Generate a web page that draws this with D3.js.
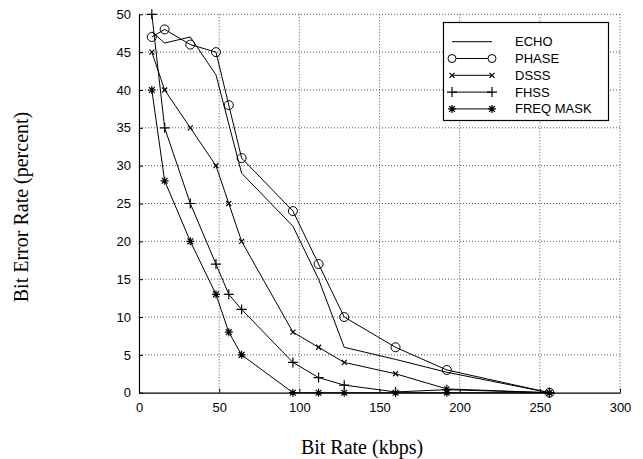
<!DOCTYPE html>
<html>
<head>
<meta charset="utf-8">
<script src="https://cdn.jsdelivr.net/npm/d3@7"></script>
<style>
  body { margin: 0; background: #fff; }
  .canvas svg { display: block; }
  .tick-label { font-family: "Liberation Sans", Arial, sans-serif; font-size: 13px; fill: #000; }
  .title { font-family: "Liberation Serif", "Times New Roman", serif; font-size: 20px; fill: #000; }
</style>
</head>
<body>
<div class="canvas"></div>
<script>
// data
const bitRates = [8, 16, 32, 48, 56, 64, 96, 112, 128, 160, 192, 256];
const echoRates = [8, 16, 32, 48, 64, 96, 112, 128, 160, 192, 256];
const echo = [47.7, 46.2, 47, 42, 29, 22, 15, 6, 4.4, 2.7, 0];
const phase = [47, 48, 46, 45, 38, 31, 24, 17, 10, 6, 3, 0];
const dsss = [45, 40, 35, 30, 25, 20, 8, 6, 4, 2.5, 0.5, 0];
const fhss = [50, 35, 25, 17, 13, 11, 4, 2, 1, 0.1, 0.4, 0];
const freqMask = [40, 28, 20, 13, 8, 5, 0, 0, 0, 0, 0, 0];
const xTicks = [0, 50, 100, 150, 200, 250, 300];
const yTicks = [0, 5, 10, 15, 20, 25, 30, 35, 40, 45, 50];

const series = [
  { name: "ECHO", x: echoRates, y: echo, marker: "none" },
  { name: "PHASE", x: bitRates, y: phase, marker: "circle" },
  { name: "DSSS", x: bitRates, y: dsss, marker: "times" },
  { name: "FHSS", x: bitRates, y: fhss, marker: "plus" },
  { name: "FREQ MASK", x: bitRates, y: freqMask, marker: "star" },
];

// marker path builder
const markerPath = (type) => {
  if (type === "times") {
    const s = 2.5;
    return `M${-s},${-s}L${s},${s}M${-s},${s}L${s},${-s}`;
  }
  if (type === "plus") {
    const s = 5;
    return `M${-s},0L${s},0M0,${-s}L0,${s}`;
  }
  if (type === "star") {
    const s = 4, d = 2.9;
    return `M${-s},0L${s},0M0,${-s}L0,${s}M${-d},${-d}L${d},${d}M${-d},${d}L${d},${-d}`;
  }
  return "";
};

const width = 643, height = 459;
const margin = { top: 14.3, right: 23, bottom: 66.3, left: 139 };
const graphWidth = width - margin.left - margin.right;
const graphHeight = height - margin.top - margin.bottom;

const svg = d3
  .select(".canvas")
  .append("svg")
  .attr("width", width)
  .attr("height", height);

const graph = svg
  .append("g")
  .attr("transform", `translate(${margin.left}, ${margin.top})`);

// scales
const x = d3.scaleLinear().domain([0, 300]).range([0, graphWidth]);
const y = d3.scaleLinear().domain([0, 50]).range([graphHeight, 0]);

// grid lines
const grid = graph.append("g").attr("class", "grid");
grid
  .selectAll("line.gx")
  .data(xTicks.slice(1))
  .enter()
  .append("line")
  .attr("x1", (d) => x(d))
  .attr("x2", (d) => x(d))
  .attr("y1", 0)
  .attr("y2", graphHeight)
  .attr("stroke", "#555")
  .attr("stroke-width", 1)
  .attr("stroke-dasharray", "1,2");
grid
  .selectAll("line.gy")
  .data(yTicks.slice(1))
  .enter()
  .append("line")
  .attr("x1", 0)
  .attr("x2", graphWidth)
  .attr("y1", (d) => y(d))
  .attr("y2", (d) => y(d))
  .attr("stroke", "#555")
  .attr("stroke-width", 1)
  .attr("stroke-dasharray", "1,2");

// axes
const xAxis = d3.axisBottom(x).tickValues(xTicks).tickSizeInner(-4).tickSizeOuter(0).tickPadding(10);
const yAxis = d3.axisLeft(y).tickValues(yTicks).tickSizeInner(-4).tickSizeOuter(0).tickPadding(8);

const xAxisGroup = graph
  .append("g")
  .attr("class", "x-axis")
  .attr("transform", `translate(0, ${graphHeight})`)
  .call(xAxis);
const yAxisGroup = graph.append("g").attr("class", "y-axis").call(yAxis);

[xAxisGroup, yAxisGroup].forEach((g) => {
  g.select(".domain").attr("stroke", "#000").attr("stroke-width", 1.2);
  g.selectAll(".tick line").attr("stroke", "#000");
  g.selectAll("text")
    .attr("class", "tick-label")
    .attr("font-family", null)
    .attr("font-size", null);
});

// line generator
const line = d3
  .line()
  .x((d) => x(d[0]))
  .y((d) => y(d[1]));

series.forEach((s) => {
  const pts = s.x.map((v, i) => [v, s.y[i]]);
  graph
    .append("path")
    .datum(pts)
    .attr("fill", "none")
    .attr("stroke", "#000")
    .attr("stroke-width", 1)
    .attr("d", line);

  if (s.marker === "circle") {
    graph
      .selectAll(null)
      .data(pts)
      .enter()
      .append("circle")
      .attr("cx", (d) => x(d[0]))
      .attr("cy", (d) => y(d[1]))
      .attr("r", 4.5)
      .attr("fill", "none")
      .attr("stroke", "#000");
  } else if (s.marker !== "none") {
    graph
      .selectAll(null)
      .data(pts)
      .enter()
      .append("path")
      .attr("transform", (d) => `translate(${x(d[0])}, ${y(d[1])})`)
      .attr("d", markerPath(s.marker))
      .attr("fill", "none")
      .attr("stroke", "#000")
      .attr("stroke-width", 1.2);
  }
});

// legend
const legend = svg.append("g").attr("class", "legend");
legend
  .append("rect")
  .attr("x", 443.5)
  .attr("y", 22.5)
  .attr("width", 165)
  .attr("height", 98)
  .attr("fill", "#fff")
  .attr("stroke", "#000")
  .attr("stroke-width", 1.2);

series.forEach((s, i) => {
  const ly = 41.7 + i * 16.8;
  const row = legend.append("g");
  row
    .append("line")
    .attr("x1", 452)
    .attr("x2", 492)
    .attr("y1", ly)
    .attr("y2", ly)
    .attr("stroke", "#000");
  [452, 492].forEach((lx) => {
    if (s.marker === "circle") {
      row
        .append("circle")
        .attr("cx", lx)
        .attr("cy", ly)
        .attr("r", 4)
        .attr("fill", "#fff")
        .attr("stroke", "#000");
    } else if (s.marker !== "none") {
      row
        .append("path")
        .attr("transform", `translate(${lx}, ${ly})`)
        .attr("d", markerPath(s.marker))
        .attr("fill", "none")
        .attr("stroke", "#000")
        .attr("stroke-width", 1.2);
    }
  });
  row
    .append("text")
    .attr("class", "tick-label")
    .attr("x", 515)
    .attr("y", ly)
    .attr("dy", "0.35em")
    .text(s.name);
});

// axis titles
svg
  .append("text")
  .attr("class", "title")
  .attr("text-anchor", "middle")
  .attr("x", 362)
  .attr("y", 454)
  .text("Bit Rate (kbps)");

svg
  .append("text")
  .attr("class", "title")
  .attr("text-anchor", "middle")
  .attr("transform", "translate(28, 207) rotate(-90)")
  .text("Bit Error Rate (percent)");
</script>
</body>
</html>
